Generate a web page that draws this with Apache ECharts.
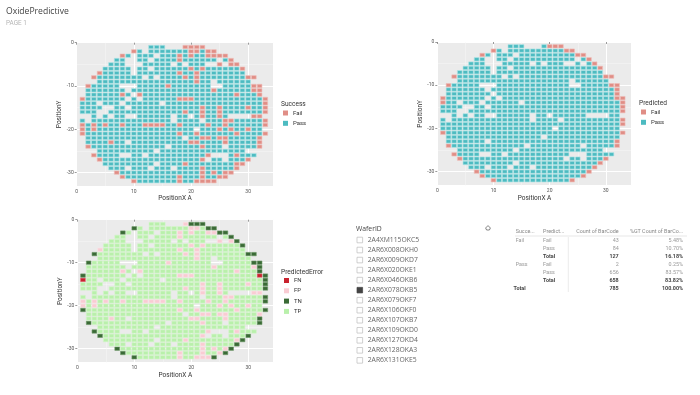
<!DOCTYPE html>
<html><head><meta charset="utf-8">
<style>html,body{margin:0;padding:0;background:#fff}#c{width:700px;height:395px}</style>
<script src="https://cdn.jsdelivr.net/npm/echarts@6/dist/echarts.min.js"></script>
</head><body><div id="c"></div>
<script>
// Wafer rows 1..32: first and last column of each row
const rowSpans = [[13,22],[10,24],[8,26],[7,27],[6,28],[5,29],[4,30],[3,31],[3,31],[2,32],[2,32],[2,32],
[1,33],[1,33],[1,33],[1,33],[1,33],[1,33],[1,33],[1,33],[1,33],[2,32],[2,32],[2,32],[3,31],[3,31],[4,30],[5,29],[6,28],[7,27],[8,26],[10,24]];
// Columns without a die, per row
const emptyCols = [[16,17,18],[12],[10,14],[9,10,13,25],[9,10,11,17,19,23,24,26],[10,13],[10,30],[12,14],[3,24,31],[8,9,10,24,25],[9],[10],
[9,11],[4,8,15],[5,6,9],[4,5],[1,2,4,6,9,10,17,20,27,28,29,30,33],[2,17,22],[],[21,33],[],[19],[9],[16,26],[3,14,30,31],[8,9,12,24,25,26],[23,26],[14],[9,13,17],[],[],[]];
// Success = Fail, Predicted = Fail
const tnCols = [[20,21,22],[10,23,24],[8,25,26],[27],[28],[29],[],[3,30,31],[],[2,31,32],[32],[32],
[1,33],[33],[33],[33],[],[33],[33],[],[1,33],[],[32],[2,32],[],[3],[4,30],[29],[28],[7,27],[8,26],[10,24]];
// Success = Fail, Predicted = Pass
const fpCols = [[19],[20,21],[18,20,23,24],[18],[25,27],[20,22],[4,18,21],[19,21],[21],[16],[24,31],[8,11,28],
[18,19,20],[],[22,25,30],[19,22,25],[22,25,31,32],[26,27],[1,3,5,8,12,13,14,15,18,23,26],[1,3,25,27,30],[18,21,28],[22,23,25,26,32],[6,20,21,26],[22],[],[23,28],[22],[19,28],[22],[22,24,26],[18,22,25],[18,21,22,23]];
// Success = Pass, Predicted = Fail
const fnCols = [[],[],[],[],[],[],[],[],[],[],[],[],[32],[1],[],[],[],[],[],[],[],[],[],[],[],[],[],[],[],[],[],[]];

const waferIds = ['2A4XM115OKC5','2AR6X008OKH0','2AR6X009OKD7','2AR6X020OKE1','2AR6X046OKB6','2AR6X078OKB5','2AR6X079OKF7','2AR6X106OKF0','2AR6X107OKB7','2AR6X109OKD0','2AR6X127OKD4','2AR6X128OKA3','2AR6X131OKE5'];
const selectedWafer = '2AR6X078OKB5';
const tableHeaders = ['Succe...','Predict...','Count of BarCode','%GT Count of BarCo...'];
const tableRows = [['Fail','Fail','43','5.48%',0],['','Pass','84','10.70%',0],['','Total','127','16.18%',1],['Pass','Fail','2','0.25%',0],['','Pass','656','83.57%',0],['','Total','658','83.82%',1],['Total','','785','100.00%',1]];

const FONT = 'Roboto, "Liberation Sans", sans-serif';
const points = {tn:[],fp:[],fn:[],tp:[]};
rowSpans.forEach((sp,i)=>{
  const r=i+1;
  for(let x=sp[0];x<=sp[1];x++){
    if(emptyCols[i].includes(x)) continue;
    const k = tnCols[i].includes(x)?'tn':fpCols[i].includes(x)?'fp':fnCols[i].includes(x)?'fn':'tp';
    points[k].push([x,r]);
  }
});
const C = {fail:'#e08e86',pass:'#4dbbc1',failB:'#f0bdb8',passB:'#aee6e8',FN:'#c9222e',FP:'#f9ccd3',TN:'#3a6a36',TP:'#b9f0ab',FNb:'#dd5560',FPb:'#fce3e6',TNb:'#6a9665',TPb:'#d2f6c8'};

const panels = [
 {left:76.7,top:42.7,w:196.6,h:143.3,xMax:34.4,yMax:33.1,yname:'PositionY',xname:'PositionX A',legendTitle:'Success',lx:283,ly:110,tx:281,ty:104,
  series:[['Fail',points.tn.concat(points.fp),C.fail,C.failB],['Pass',points.tp.concat(points.fn),C.pass,C.passB]]},
 {left:437.3,top:42,w:194.4,h:143.7,xMax:34.6,yMax:33.26,yname:'PositionY',xname:'PositionX A',legendTitle:'Predicted',lx:641,ly:109,tx:639,ty:103,
  series:[['Fail',points.tn.concat(points.fn),C.fail,C.failB],['Pass',points.tp.concat(points.fp),C.pass,C.passB]]},
 {left:77.3,top:219.7,w:196,h:143,xMax:34.4,yMax:33.26,yname:'PositionY',xname:'PositionX A',legendTitle:'PredictedError',lx:284,ly:277.5,tx:281,ty:272,
  series:[['FN',points.fn,C.FN,C.FNb],['FP',points.fp,C.FP,C.FPb],['TN',points.tn,C.TN,C.TNb],['TP',points.tp,C.TP,C.TPb]]}
];

const grid=[],xAxis=[],yAxis=[],series=[],legend=[],graphic=[];
const txt=(x,y,text,o={})=>graphic.push({type:'text',silent:true,x,y,style:Object.assign({text,fill:'#666',font:'6px '+FONT,textVerticalAlign:'middle',textAlign:'left'},o)});
panels.forEach((p,i)=>{
  grid.push({left:p.left,top:p.top,width:p.w,height:p.h,show:true,backgroundColor:'#ebebeb',borderWidth:0});
  const common={gridIndex:i,interval:10,axisLine:{show:false},axisTick:{show:true,length:2,lineStyle:{color:'#555',width:.6}},
    splitLine:{show:true,lineStyle:{color:'#fff',width:1}},minorTick:{show:false,splitNumber:2},minorSplitLine:{show:true,lineStyle:{color:'#f7f7f7',width:.5}}};
  xAxis.push(Object.assign({type:'value',min:0,max:p.xMax,axisLabel:{fontSize:5,color:'#555',margin:3,fontFamily:FONT,showMaxLabel:false},
    name:p.xname,nameLocation:'middle',nameGap:9,nameTextStyle:{fontSize:6.5,color:'#333',fontFamily:FONT}},common));
  yAxis.push(Object.assign({type:'value',inverse:true,min:0,max:p.yMax,axisLabel:{fontSize:5,color:'#555',margin:3,fontFamily:FONT,showMaxLabel:false,formatter:v=>v===0?'0':'-'+v},
    name:p.yname,nameLocation:'middle',nameGap:11,nameRotate:90,nameTextStyle:{fontSize:6.5,color:'#333',fontFamily:FONT}},common));
  p.series.forEach(s=>series.push({type:'scatter',name:s[0],xAxisIndex:i,yAxisIndex:i,data:s[1],symbol:'rect',symbolSize:[4.7,3.4],silent:true,animation:false,
    itemStyle:{color:s[2],borderColor:s[3],borderWidth:.6,opacity:1}}));
  legend.push({left:p.lx,top:p.ly,orient:'vertical',padding:0,itemWidth:5,itemHeight:5,itemGap:4.3,icon:'rect',selectedMode:false,
    data:p.series.map(s=>s[0]),textStyle:{fontSize:6,color:'#333',fontFamily:FONT},itemStyle:{borderWidth:0}});
  txt(p.tx,p.ty,p.legendTitle,{fill:'#333',font:'6.6px '+FONT});
});

// Page title
txt(6,12,'OxidePredictive',{fill:'#444',font:'8.6px "Open Sans", sans-serif'});
txt(6,23,'PAGE 1',{fill:'#b5b5b5',font:'6.4px '+FONT});

// Slicer
txt(356,229,'WaferID',{fill:'#444',font:'6.8px "Open Sans", sans-serif'});
waferIds.forEach((id,i)=>{
  const y=240+i*10.03, on=id===selectedWafer;
  graphic.push({type:'rect',silent:true,shape:{x:357,y:y-2.8,width:5.6,height:5.6},style:{fill:on?'#444':'#fff',stroke:on?'#444':'#bbb',lineWidth:.7}});
  txt(367.7,y,id,{fill:'#666',font:'6.8px "Open Sans", sans-serif'});
});

// Clear-selection icon
graphic.push({type:'polygon',silent:true,shape:{points:[[488,225.6],[490.4,228],[489.4,230],[486.6,230],[485.6,228]]},style:{fill:'#fff',stroke:'#666',lineWidth:.8}});

// Table
const colX=[515.7,543,618.7,683], rowY=[241,249,257,265,273,280.7,289];
tableHeaders.forEach((h,i)=>txt(colX[i],232,h,{fill:'#888',font:'5.4px '+FONT,textAlign:i>1?'right':'left'}));
graphic.push({type:'line',silent:true,shape:{x1:515,y1:236,x2:687,y2:236},style:{stroke:'#ddd',lineWidth:.7}});
graphic.push({type:'line',silent:true,shape:{x1:568.3,y1:237,x2:568.3,y2:292},style:{stroke:'#e3e3e3',lineWidth:.7}});
tableRows.forEach((r,i)=>{
  const b=r[4];
  [0,1,2,3].forEach(c=>{ if(r[c]) txt(c===0&&i===6?513.5:colX[c],rowY[i],r[c],{fill:b?'#444':'#999',font:(b?'bold ':'')+'5.4px '+FONT,textAlign:c>1?'right':'left'}); });
});

const chart=echarts.init(document.getElementById('c'),null,{renderer:'canvas',width:700,height:395});
chart.setOption({animation:false,backgroundColor:'#fff',grid,xAxis,yAxis,series,legend,graphic:{elements:graphic}});
</script></body></html>
